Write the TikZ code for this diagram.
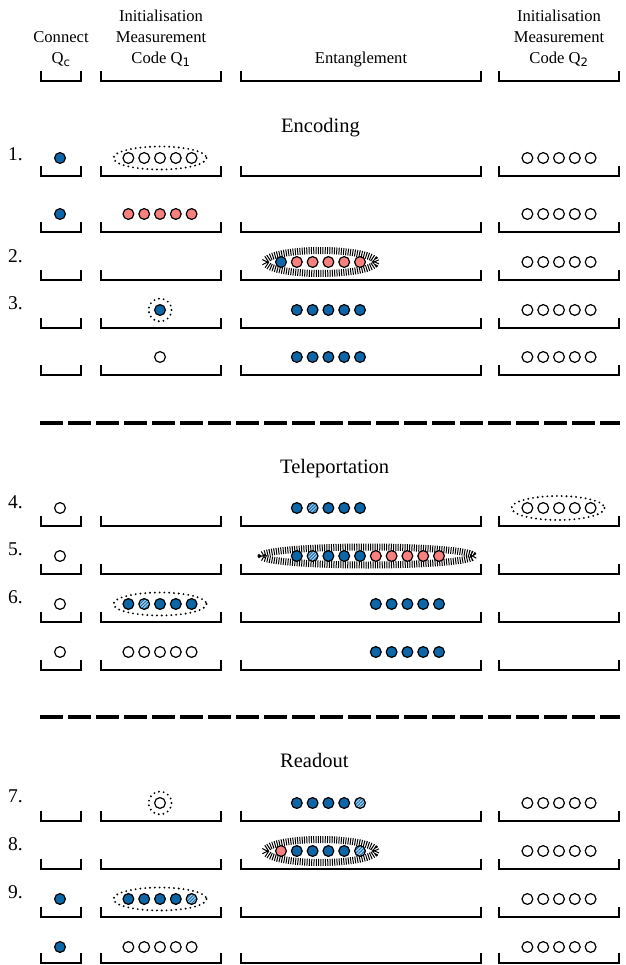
\documentclass[tikz,border=0pt]{standalone}
\usepackage{fontspec}
\setmainfont{Liberation Serif}
\setsansfont{DejaVu Sans}
\usepackage{tikz}
\usetikzlibrary{patterns.meta}
\definecolor{QubitBlue}{HTML}{0B67A8}
\definecolor{QubitRed}{HTML}{F88080}
\definecolor{QubitPale}{HTML}{A9CFEC}

\newcommand{\qsub}[1]{\textsubscript{\sffamily #1}}
% four register slots with their bottom line at height #1
\newcommand{\slots}[1]{%
  \foreach \l/\r in {41/81, 101/221, 241/481, 499/619}
    \draw[slot] (\l,{#1-10}) -- (\l,#1) -- (\r,#1) -- (\r,{#1-10});
}
% a row of qubits: name, first x, y, list of kinds
\newcommand{\qubits}[4]{%
  \foreach \k [count=\i from 0] in {#4}
    \node[\k] (#1-\i) at ({#2+15.8*\i},#3) {};
}

\tikzset{
  qb/.style={circle, draw=black, line width=1.2pt, minimum size=10.8pt, inner sep=0pt},
  B/.style={qb, fill=QubitBlue},
  R/.style={qb, fill=QubitRed},
  W/.style={qb, fill=white},
  H/.style={qb, preaction={fill=QubitPale},
    pattern={Lines[angle=45, distance=2.3pt, line width=0.9pt]}, pattern color=QubitBlue},
  slot/.style={line width=2.4pt},
  meas/.style={line width=2.1pt, dash pattern=on 0pt off 4.8pt, line cap=round},
  ent/.style={line width=7pt, dash pattern=on 1pt off 1.3pt},
  sep/.style={line width=4pt, dash pattern=on 23pt off 5pt},
  head/.style={font=\fontsize{16.6}{20}\selectfont, anchor=base, inner sep=0pt},
  stage/.style={font=\fontsize{20.5}{24}\selectfont, anchor=base west, inner sep=0pt},
  step label/.style={font=\fontsize{19.5}{22}\selectfont, anchor=base west, inner sep=0pt}
}

\begin{document}
\begin{tikzpicture}[x=1pt, y=-1pt]
  \useasboundingbox (0,0) rectangle (625,965);
  % Column headings
  \node[head] (hc1) at (61,43) {Connect};
  \node[head] (hc2) at (61,64) {Q\qsub{c}};
  \node[head] (h11) at (161,22) {Initialisation};
  \node[head] (h12) at (161,43) {Measurement};
  \node[head] (h13) at (161,64) {Code Q\qsub{1}};
  \node[head] (he1) at (361,64) {Entanglement};
  \node[head] (h21) at (559,22) {Initialisation};
  \node[head] (h22) at (559,43) {Measurement};
  \node[head] (h23) at (559,64) {Code Q\qsub{2}};
  % Slots
  \foreach \b in {81,176,232,280,328,375,526,574,622,670,821,869,917,963}
    \slots{\b}
  % Separators
  \draw[sep] (40,423) -- (620,423);
  \draw[sep] (40,717) -- (620,717);
  % Stages
  \node[stage] (encoding) at (281,133) {Encoding};
  \node[stage] (teleport) at (280,473) {Teleportation};
  \node[stage] (readout) at (280,767) {Readout};
  % Step numbers
  \foreach \n/\y in {1/161,2/262,3/309,4/508,5/555,6/603,7/802,8/850,9/898}
    \node[step label] (s\n) at (8,\y) {\n.};
  % Measurements and entangling operations
  \draw[meas] (160,158) ellipse [x radius=46.5, y radius=11.5];
  \draw[ent] (320.5,262) ellipse [x radius=55.5, y radius=11.5];
  \draw[meas] (160,310) circle [radius=11.5];
  \draw[meas] (558,508) ellipse [x radius=46.5, y radius=12];
  \draw[ent] (367.5,556) ellipse [x radius=106, y radius=9];
  \draw[meas] (160,604) ellipse [x radius=46.5, y radius=11.5];
  \draw[meas] (160,803) circle [radius=11.5];
  \draw[ent] (320.5,851) ellipse [x radius=55.5, y radius=11.5];
  \draw[meas] (160,899) ellipse [x radius=46.5, y radius=11.5];
  % Encoding
  \qubits{c1}{60}{158}{B}
  \qubits{a1}{128.4}{158}{W,W,W,W,W}
  \qubits{b1}{527.4}{158}{W,W,W,W,W}
  \qubits{c1b}{60}{214}{B}
  \qubits{a1b}{128.4}{214}{R,R,R,R,R}
  \qubits{b1b}{527.4}{214}{W,W,W,W,W}
  \qubits{e2}{281}{262}{B,R,R,R,R,R}
  \qubits{b2}{527.4}{262}{W,W,W,W,W}
  \qubits{a3}{160}{310}{B}
  \qubits{e3}{296.8}{310}{B,B,B,B,B}
  \qubits{b3}{527.4}{310}{W,W,W,W,W}
  \qubits{a3b}{160}{357}{W}
  \qubits{e3b}{296.8}{357}{B,B,B,B,B}
  \qubits{b3b}{527.4}{357}{W,W,W,W,W}
  % Teleportation
  \qubits{c4}{60}{508}{W}
  \qubits{e4}{296.8}{508}{B,H,B,B,B}
  \qubits{b4}{527.4}{508}{W,W,W,W,W}
  \qubits{c5}{60}{556}{W}
  \qubits{e5}{296.8}{556}{B,H,B,B,B,R,R,R,R,R}
  \qubits{c6}{60}{604}{W}
  \qubits{a6}{128.4}{604}{B,H,B,B,B}
  \qubits{e6}{375.8}{604}{B,B,B,B,B}
  \qubits{c6b}{60}{652}{W}
  \qubits{a6b}{128.4}{652}{W,W,W,W,W}
  \qubits{e6b}{375.8}{652}{B,B,B,B,B}
  % Readout
  \qubits{a7}{160}{803}{W}
  \qubits{e7}{296.8}{803}{B,B,B,B,H}
  \qubits{b7}{527.4}{803}{W,W,W,W,W}
  \qubits{e8}{281}{851}{R,B,B,B,B,H}
  \qubits{b8}{527.4}{851}{W,W,W,W,W}
  \qubits{c9}{60}{899}{B}
  \qubits{a9}{128.4}{899}{B,B,B,B,H}
  \qubits{b9}{527.4}{899}{W,W,W,W,W}
  \qubits{c9b}{60}{947}{B}
  \qubits{a9b}{128.4}{947}{W,W,W,W,W}
  \qubits{b9b}{527.4}{947}{W,W,W,W,W}
\end{tikzpicture}
\end{document}
